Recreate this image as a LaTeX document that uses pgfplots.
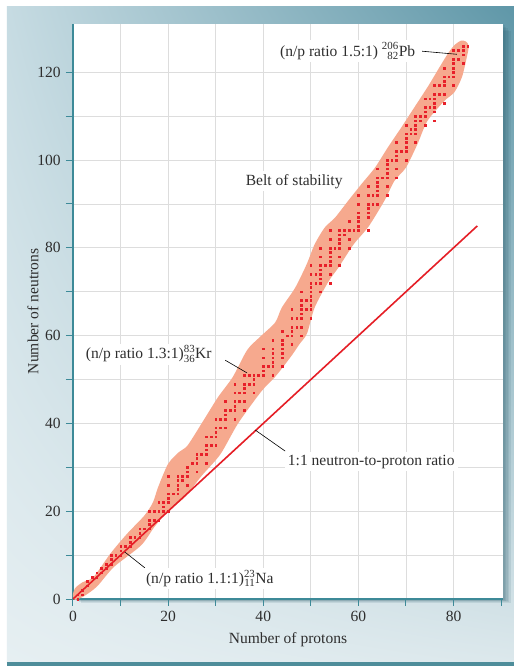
\documentclass[border=0pt]{standalone}
\usepackage{fontspec}
\setmainfont{Liberation Serif}
\usepackage{mathtools}
\usepackage{pgfplots}
\pgfplotsset{compat=1.18}
\usetikzlibrary{shadings}

\definecolor{belt}{HTML}{F6A98E}
\definecolor{dotred}{HTML}{E8202A}
\definecolor{linered}{HTML}{E51E26}
\definecolor{axcol}{HTML}{3D8A98}
\definecolor{gridc}{HTML}{DDDDDD}
\definecolor{txt}{HTML}{2E2E2E}
\definecolor{bgA}{HTML}{C6DBE2}
\definecolor{bgB}{HTML}{5F97A8}
\definecolor{bgC}{HTML}{E6EFF2}
\definecolor{bgD}{HTML}{DCE8EC}
\definecolor{barc}{HTML}{4E8D9A}
\definecolor{shad}{HTML}{2D5F6E}

\newcommand\fs{\fontsize{15.6}{18}\selectfont}
\newcommand\nuc[3]{$\prescript{\text{#1}}{\text{#2}}{\text{#3}}$}

% dots as drawn in the figure: protons, neutrons
\pgfplotstableread{
Z N
1 0
1 1
2 1
2 2
3 3
3 4
4 5
5 5
5 6
6 6
6 7
7 7
7 8
8 8
8 9
8 10
9 10
10 10
10 11
10 12
11 12
12 12
12 13
12 14
13 14
14 14
14 15
14 16
15 16
16 16
16 17
16 18
16 20
17 18
17 20
18 18
18 20
18 22
19 20
19 21
19 22
20 20
20 22
20 23
20 24
20 26
20 28
21 24
22 24
22 25
22 26
22 27
22 28
23 27
23 28
24 26
24 28
24 29
24 30
25 31
26 29
26 31
26 32
26 33
27 33
28 31
28 33
28 34
28 35
28 37
29 35
29 37
30 35
30 37
30 38
30 39
30 41
31 39
31 41
32 39
32 41
32 42
32 43
32 45
33 43
34 41
34 43
34 44
34 45
34 47
34 49
35 45
35 47
36 43
36 45
36 47
36 48
36 49
36 51
37 49
37 51
38 47
38 49
38 50
38 51
39 51
40 51
40 52
40 53
40 55
40 57
41 53
42 51
42 53
42 54
42 55
42 56
42 57
42 59
44 53
44 55
44 56
44 57
44 58
44 59
44 61
45 60
46 58
46 60
46 61
46 62
46 64
46 66
47 62
47 64
48 60
48 62
48 64
48 65
48 66
48 67
48 68
48 70
49 66
49 68
50 64
50 66
50 67
50 68
50 69
50 70
50 71
50 72
50 74
50 76
51 72
51 74
52 70
52 72
52 73
52 74
52 75
52 76
52 78
52 80
53 76
54 72
54 74
54 76
54 77
54 78
54 79
54 80
54 82
54 84
55 80
56 76
56 78
56 80
56 81
56 82
56 83
56 84
57 83
57 84
58 80
58 82
58 84
58 86
59 84
60 84
60 85
60 86
60 87
60 88
60 90
60 92
62 84
62 87
62 88
62 89
62 90
62 92
62 94
63 90
63 92
64 90
64 92
64 93
64 94
64 95
64 96
64 98
65 96
66 92
66 94
66 96
66 97
66 98
66 99
66 100
67 100
68 96
68 98
68 100
68 101
68 102
68 104
69 102
70 100
70 102
70 103
70 104
70 105
70 106
70 108
71 106
71 107
72 104
72 106
72 107
72 108
72 109
72 110
73 109
73 110
74 108
74 110
74 111
74 112
74 114
75 112
75 114
76 109
76 111
76 112
76 113
76 114
76 115
76 117
77 115
77 117
78 113
78 115
78 117
78 118
78 119
78 121
79 119
80 117
80 119
80 120
80 121
80 122
80 123
80 125
81 123
81 125
82 122
82 124
82 125
82 126
83 126
}\stable

\begin{document}
\fs\color{txt}
\begin{tikzpicture}
\useasboundingbox (-73bp,-67bp) rectangle (441bp,599bp);
\fill[white] (-73bp,-67bp) rectangle (441bp,599bp);
\shade[upper left=bgA, upper right=bgB, lower left=bgC, lower right=bgD] (-66bp,-63bp) rectangle (441bp,592bp);
\fill[barc] (-66bp,-67bp) rectangle (441bp,-63bp);
% panel shadow
\foreach \s in {1,2,3,4,5}{
  \fill[shad,opacity=0.12] (\s*1.5bp,-\s*0.8bp) rectangle (430bp+\s*1.5bp,575bp-\s*1.5bp);
}
\begin{axis}[
  scale only axis, width=430bp, height=575bp,
  xmin=0, xmax=90.4, ymin=0, ymax=131,
  axis background/.style={fill=white},
  axis lines=left,
  axis line style={draw=axcol, line width=1.2bp, -},
  tick align=outside,
  major tick length=7bp, minor tick length=7bp,
  tick style={draw=axcol, line width=1bp},
  xtick={0,20,...,80}, minor xtick={10,30,50,70},
  extra x ticks={90}, extra x tick labels={}, extra x tick style={grid=none},
  ytick={0,20,...,120}, minor ytick={10,30,...,110},
  grid=both,
  major grid style={draw=gridc, line width=0.9bp},
  minor grid style={draw=gridc, line width=0.9bp},
  tick label style={font=\fs, text=txt},
  /pgf/number format/assume math mode=true,
  xlabel={Number of protons}, ylabel={Number of neutrons},
  label style={font=\fs, text=txt},
  xlabel style={at={(axis description cs:0.5,-0.0713)}, anchor=center},
  ylabel style={at={(axis description cs:-0.093,0.5)}, anchor=center},
  clip=true,
]
% belt of stability
\addplot[draw=none, fill=belt, smooth, tension=0.45] coordinates {
(-0.2,0.3) (0.4,2.4) (2,3.8) (4.3,5.0) (7.9,10.4) (11.4,14.9) (15,19)
(16.8,22) (17.9,25.5) (20,30.8) (22.3,33.5) (24.1,35) (27.5,40.8)
(30.5,46) (33.6,50.6) (36.6,56.7) (39.3,59.7) (42.5,63) (43.9,66.4)
(46.7,70.9) (49.1,76.2) (50.8,80.8) (52.9,84.6) (55.1,86.9) (57.9,90.8)
(60.7,94.6) (63.5,98.3) (66.2,102.9) (69,107.4) (71.7,111.9) (74.7,116.9)
(76.8,120.7) (78.9,124.4) (80.3,126.3) (81.6,127.2) (82.6,127) (83.2,126)
(82.9,124) (81.8,119) (80.2,115.5) (78,113.4) (74.5,108.9) (72.4,103.6)
(70,98.3) (67.6,95.3) (65.5,90.8) (62.1,84.8) (59,80.8) (55.8,75.5)
(53.7,72.3) (50.8,66.4) (49.2,60.5) (47.7,58.2) (46,55.5) (43.9,52.5)
(42.4,50.5) (39.6,47.3) (34.7,40) (31,33) (27,28) (23.4,23.1) (20,20.1)
(17.1,16.4) (14.3,12.2) (8.6,7.3) (5,2.8) (2.1,0.5) (0.5,-0.2)
} -- cycle;
% nuclides
\addplot[only marks, mark=square*, mark size=0.85bp, color=dotred] table[x=Z, y=N] {\stable};
% 1:1 line
\addplot[linered, line width=1.6bp] coordinates {(0,0) (85,85)};
% annotations
\draw[black, line width=0.6bp] (axis cs:73.4,124.8) -- (axis cs:80.7,124.1);
\draw[black, line width=0.6bp] (axis cs:32,54.4) -- (axis cs:36.6,51.5);
\draw[black, line width=0.6bp] (axis cs:38.3,38.5) -- (axis cs:44.6,33.7);
\draw[black, line width=0.6bp] (axis cs:10.9,10.7) -- (axis cs:15.1,7.1);
\node[anchor=base east, fill=white, inner sep=2bp] at (axis cs:72.4,123.7) {(n/p ratio 1.5:1) \nuc{206}{82}{Pb}};
\node[anchor=base, fill=white, inner sep=3bp] at (axis cs:46.5,94.3) {Belt of stability};
\node[anchor=base east, fill=white, inner sep=2bp] at (axis cs:29.6,54.7) {(n/p ratio 1.3:1)\nuc{83}{36}{Kr}};
\node[anchor=base, fill=white, inner sep=3bp] at (axis cs:62.7,30.5) {1:1 neutron-to-proton ratio};
\node[anchor=base west, fill=white, inner sep=2bp] at (axis cs:14.9,3.6) {(n/p ratio 1.1:1)\nuc{23}{11}{Na}};
\end{axis}
\end{tikzpicture}
\end{document}
